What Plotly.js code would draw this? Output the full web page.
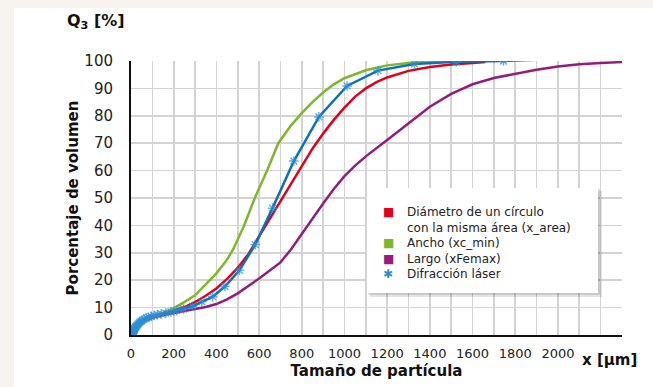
<!DOCTYPE html>
<html><head><meta charset="utf-8">
<script src="https://cdn.plot.ly/plotly-3.0.1.min.js"></script>
<style>
html,body{margin:0;padding:0;background:#f7f3ee;overflow:hidden;}
#bg{position:absolute;left:14px;top:8px;width:639px;height:379px;background:#ffffff;}
#chart{position:absolute;left:0;top:0;width:653px;height:387px;}
</style></head><body>
<div id="bg"></div><div id="chart"></div>
<script>
// ---- data ----
var xAreaX = [10, 30, 60, 100, 150, 200, 250, 300, 350, 400, 450, 500, 550, 600, 650, 700, 750, 800, 850, 900, 950, 1000, 1050, 1100, 1150, 1200, 1300, 1400, 1500, 1600, 1660];
var xAreaY = [0.5, 3, 5.2, 6.5, 7.6, 8.8, 10.2, 12, 14.3, 17, 20.5, 24.5, 29.5, 36, 42.5, 48.5, 55.5, 62, 68, 73.5, 78.5, 83, 87, 90, 92.3, 94, 96.4, 97.8, 98.7, 99.3, 99.6];

var xcMinX = [10, 30, 60, 100, 150, 200, 250, 300, 350, 400, 450, 480, 530, 580, 640, 690, 750, 800, 850, 900, 950, 1000, 1100, 1200, 1300, 1400, 1550];
var xcMinY = [0.5, 3, 5.2, 6.7, 8, 9.8, 12, 14.5, 18.5, 22.5, 27.5, 31.5, 40, 50, 60.5, 70, 76.5, 81, 85, 88.5, 91.5, 93.7, 96.6, 98.4, 99.3, 99.7, 100];

var xFemaxX = [10, 30, 60, 100, 150, 200, 250, 300, 350, 400, 450, 500, 550, 600, 650, 700, 750, 800, 850, 900, 950, 1000, 1050, 1100, 1200, 1300, 1400, 1500, 1600, 1700, 1800, 1900, 2000, 2100, 2200, 2300];
var xFemaxY = [0.5, 3, 5, 6.3, 7.3, 8, 8.6, 9.3, 10.2, 11.3, 13, 15.2, 17.8, 20.6, 23.5, 26.5, 31.3, 37, 42.5, 48, 53.3, 58, 61.8, 65.2, 71.2, 77.3, 83.3, 88, 91.5, 93.8, 95.3, 96.8, 98, 98.8, 99.3, 99.6];

var laserX = [5, 6, 7, 8, 9, 10.5, 12, 14, 16, 18, 21, 24, 27, 31, 36, 41, 47, 54, 62, 72, 82, 94, 108, 124, 142, 163, 187, 214, 246, 288, 332, 383, 440, 508, 582, 663, 763, 880, 1012, 1157, 1328, 1524, 1745, 1925];
var laserY = [0.2, 0.4, 0.6, 0.8, 1.0, 1.3, 1.6, 1.9, 2.2, 2.5, 2.8, 3.1, 3.4, 3.8, 4.2, 4.6, 5.0, 5.4, 5.8, 6.2, 6.5, 6.8, 7.1, 7.4, 7.7, 8.0, 8.4, 8.9, 9.5, 10.5, 12.1, 14.0, 17.7, 23.6, 33.0, 46.3, 63.5, 79.6, 90.9, 96.5, 98.9, 99.7, 100, 100.5];

var seriesNames = ['Diámetro de un círculo<br>con la misma área (x_area)', 'Ancho (xc_min)', 'Largo (xFemax)', 'Difracción láser'];
var yTicks = [0, 10, 20, 30, 40, 50, 60, 70, 80, 90, 100];
var xTicks = [0, 200, 400, 600, 800, 1000, 1200, 1400, 1600, 1800, 2000];
var xLabels = ['0', '200', '400', '600', '800', '1000', '1200', '1400', '1600', '1800', '2000'];

// ---- style ----
var cRed = '#e2001a', cGreen = '#7ab929', cPurple = '#951b81', cBlue = '#0b72b9', cStar = '#2b8fd6';
var L = 131, R = 622, T = 61, B = 335;
function px(x) { return (x - L) / (R - L); }
function py(y) { return (B - y) / (B - T); }
var font = 'DejaVu Sans, Verdana, sans-serif';

var starSizes = laserX.map(function (_, i) { return i === laserX.length - 1 ? 0 : 8; });

var traces = [
  {x: xFemaxX, y: xFemaxY, mode: 'lines', name: seriesNames[2], line: {color: cPurple, width: 2.5}},
  {x: xAreaX, y: xAreaY, mode: 'lines', name: seriesNames[0], line: {color: cRed, width: 2.5}},
  {x: xcMinX, y: xcMinY, mode: 'lines', name: seriesNames[1], line: {color: cGreen, width: 2.5}},
  {x: laserX, y: laserY, mode: 'lines+markers', name: seriesNames[3], line: {color: cBlue, width: 2.5},
   marker: {symbol: 'asterisk-open', size: starSizes, color: cStar, line: {color: cStar, width: 1.5}}}
];

var gridC = '#d3d3d3';
var lineTop = 212, lineStep = 15.6;
function markerNote(row, html) {
  return {xref: 'paper', yref: 'paper', x: px(388), y: py(lineTop + row * lineStep), showarrow: false,
          xanchor: 'center', yanchor: 'middle', text: html, font: {family: font, size: 12, color: '#222'}};
}
var layout = {
  width: 653, height: 387,
  margin: {l: L, r: 653 - R, t: T, b: 387 - B, pad: 0},
  paper_bgcolor: 'rgba(0,0,0,0)', plot_bgcolor: '#ffffff',
  showlegend: false,
  font: {family: font, color: '#222'},
  xaxis: {
    range: [0, 2300], tickmode: 'array', tickvals: xTicks, ticktext: xLabels,
    showgrid: true, gridcolor: gridC, gridwidth: 1.6, zeroline: false,
    minor: {tickmode: 'linear', tick0: 0, dtick: 100, showgrid: true, gridcolor: gridC, gridwidth: 1.6, ticks: ''},
    showline: true, linecolor: '#111', linewidth: 2, ticks: '',
    tickfont: {family: font, size: 13, color: '#222'}, ticklabelstandoff: 5,
    title: {text: '<b>Tamaño de partícula</b>', standoff: 6, font: {family: font, size: 15, color: '#111'}}
  },
  yaxis: {
    range: [0, 100], tickmode: 'array', tickvals: yTicks,
    showgrid: true, gridcolor: gridC, gridwidth: 1.6, zeroline: false,
    showline: true, linecolor: '#111', linewidth: 2, ticks: '',
    tickfont: {family: font, size: 15, color: '#222'}, ticklabelstandoff: 13,
    title: {text: '<b>Porcentaje de volumen</b>', standoff: 2, font: {family: font, size: 15, color: '#111'}}
  },
  shapes: [
    {type: 'rect', xref: 'paper', yref: 'paper', x0: px(370), x1: px(602), y0: py(191), y1: py(297), fillcolor: 'rgba(0,0,0,0.10)', line: {width: 0}, layer: 'above'},
    {type: 'rect', xref: 'paper', yref: 'paper', x0: px(368), x1: px(600), y0: py(189), y1: py(295), fillcolor: 'rgba(0,0,0,0.12)', line: {width: 0}, layer: 'above'},
    {type: 'rect', xref: 'paper', yref: 'paper', x0: px(367), x1: px(598), y0: py(188), y1: py(293), fillcolor: '#ffffff', line: {width: 0}, layer: 'above'}
  ],
  annotations: [
    {xref: 'paper', yref: 'paper', x: px(96), y: py(22), text: '<b>Q<sub>3</sub> [%]</b>', showarrow: false, xanchor: 'center', yanchor: 'middle', font: {family: font, size: 16, color: '#111'}},
    {xref: 'paper', yref: 'paper', x: px(609), y: py(360), text: '<b>x [µm]</b>', showarrow: false, xanchor: 'center', yanchor: 'middle', font: {family: font, size: 15, color: '#111'}},
    markerNote(0, '<span style="color:' + cRed + '">■</span>'),
    markerNote(2, '<span style="color:' + cGreen + '">■</span>'),
    markerNote(3, '<span style="color:' + cPurple + '">■</span>'),
    markerNote(4, '<span style="color:' + cStar + '">✱</span>'),
    {xref: 'paper', yref: 'paper', x: px(405), y: py(lineTop + 2 * lineStep), showarrow: false, xanchor: 'left', yanchor: 'middle', align: 'left',
     text: seriesNames.join('<br>'), font: {family: font, size: 12, color: '#222'}}
  ]
};

Plotly.newPlot('chart', traces, layout, {displayModeBar: false, staticPlot: true});
</script>
</body></html>
